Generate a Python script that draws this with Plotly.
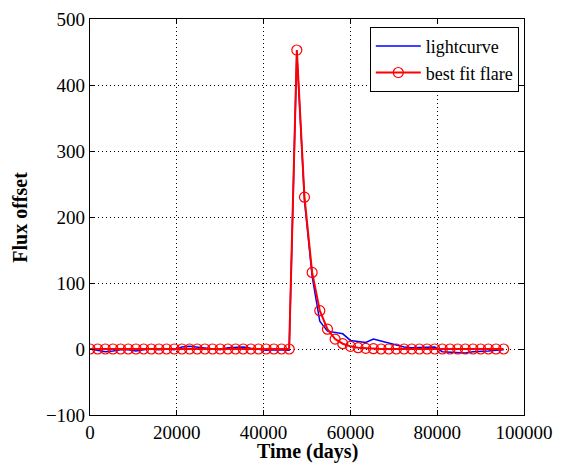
import plotly.graph_objects as go

step = 1765.0
n_pts = 55
time_days = [i * step for i in range(n_pts)]

lightcurve = [0, -2, -4, -3, -1, -1, -3, -1, 0, -1, 0, -1, 3, 4, 3, 2, 0, -1, 2, 3, 3, 1, -1, -2, -1, -1, -2,
              450, 225, 110, 42, 27, 25, 23, 13, 12, 10, 15, 12, 8, 5, 3, 2, 2, 2, 3,
              -4, -5, -5, -6, -4, -4, -3, -2, -1]

best_fit = [0] * 27 + [453, 230, 116, 58, 30, 15, 8, 4, 2, 1, 0.5] + [0] * 18

x_ticks = [0, 20000, 40000, 60000, 80000, 100000]
y_ticks = [-100, 0, 100, 200, 300, 400, 500]

font_family = "Liberation Serif"

fig = go.Figure()
fig.add_trace(go.Scatter(x=time_days, y=lightcurve, mode="lines", name="lightcurve",
                         line=dict(color="#0000ff", width=1.5)))
fig.add_trace(go.Scatter(x=time_days, y=best_fit, mode="lines+markers", name="best fit flare",
                         line=dict(color="#ff0000", width=2),
                         marker=dict(symbol="circle-open", size=10, color="#ff0000",
                                     line=dict(width=1.2, color="#ff0000"))))

axis_common = dict(showline=True, linecolor="black", linewidth=1.2, mirror="ticks",
                   ticks="inside", ticklen=5, tickcolor="black", tickwidth=1,
                   showgrid=True, gridcolor="black", griddash="1px,3px", gridwidth=1,
                   zeroline=False, automargin=False, ticklabeloverflow="allow",
                   tickfont=dict(family=font_family, size=19, color="black"))

fig.update_xaxes(range=[0, 100000], tickvals=x_ticks, ticktext=[str(v) for v in x_ticks],
                 **axis_common)
fig.update_yaxes(range=[-100, 500], tickvals=y_ticks,
                 ticktext=[("\u2212" + str(-v)) if v < 0 else str(v) for v in y_ticks],
                 **axis_common)

title_font = dict(family=font_family, size=20, color="black")
fig.add_annotation(text="<b>Time (days)</b>", xref="paper", yref="paper", x=0.5, y=-0.092,
                   xanchor="center", yanchor="middle", showarrow=False, font=title_font, borderpad=0)
fig.add_annotation(text="<b>Flux offset</b>", xref="paper", yref="paper", x=-0.162, y=0.5,
                   xanchor="center", yanchor="middle", textangle=-90, showarrow=False, font=title_font)

fig.update_layout(width=555, height=455, margin=dict(l=82, r=39, t=11, b=48),
                  plot_bgcolor="white", paper_bgcolor="white",
                  font=dict(family=font_family, color="black"),
                  legend=dict(x=0.988, y=0.98, xanchor="right", yanchor="top",
                              bgcolor="white", bordercolor="black", borderwidth=1,
                              font=dict(family=font_family, size=18, color="black"),
                              itemwidth=45, tracegroupgap=0))

fig.write_html("out.html")
